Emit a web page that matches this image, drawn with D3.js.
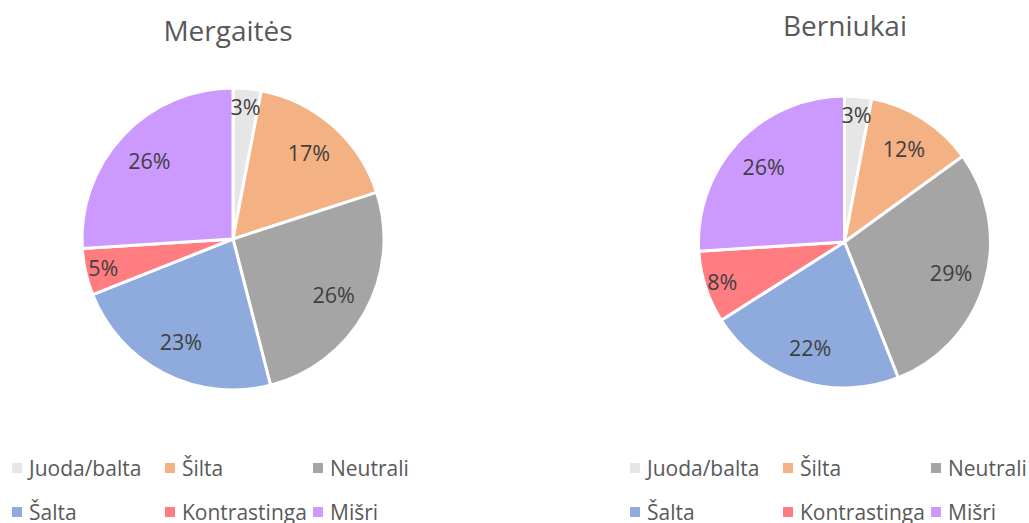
<!DOCTYPE html>
<html>
<head>
<meta charset="utf-8">
<script src="https://cdn.jsdelivr.net/npm/d3@7/dist/d3.min.js"></script>
<style>
  html, body { margin: 0; padding: 0; background: #ffffff; }
  svg { display: block; }
  text { font-family: "Open Sans", "Noto Sans", sans-serif; }
</style>
</head>
<body>
<svg id="chart" width="1029" height="523"></svg>
<script>
// Colour-preference categories (shared by both pies)
const categories = ["Juoda/balta", "Šilta", "Neutrali", "Šalta", "Kontrastinga", "Mišri"];
const colors = ["#E7E6E6", "#F4B183", "#A5A5A5", "#8FAADC", "#FF7C80", "#CC99FF"];

// Share of answers, percent
const girlsValues = [3, 17, 26, 23, 5, 26];
const boysValues = [3, 12, 29, 22, 8, 26];

const chartTitles = ["Mergaitės", "Berniukai"];

const svg = d3.select("#chart");

const color = d3.scaleOrdinal().domain(categories).range(colors);

const panels = [
  { title: chartTitles[0], values: girlsValues, cx: 233, cy: 239, r: 151, titleX: 228, titleY: 41, legendX: 12 },
  { title: chartTitles[1], values: boysValues, cx: 844.5, cy: 242, r: 146, titleX: 845, titleY: 36, legendX: 630 }
];

const pie = d3.pie().sort(null).value(d => d.value);

panels.forEach(p => {
  const data = categories.map((c, i) => ({ category: c, value: p.values[i] }));
  const arcs = pie(data);

  const g = svg.append("g").attr("transform", `translate(${p.cx},${p.cy})`);
  const arc = d3.arc().innerRadius(0).outerRadius(p.r);

  g.selectAll("path.slice")
    .data(arcs)
    .join("path")
    .attr("class", "slice")
    .attr("d", arc)
    .attr("fill", d => color(d.data.category))
    .attr("stroke", "#ffffff")
    .attr("stroke-width", 3)
    .attr("stroke-linejoin", "round");

  // Value labels inside the slices; thin slices get their label nearer the rim
  g.selectAll("text.value")
    .data(arcs)
    .join("text")
    .attr("class", "value")
    .attr("transform", d => {
      const f = d.data.value < 10 ? 0.88 : 0.76;
      const a = (d.startAngle + d.endAngle) / 2;
      return `translate(${Math.sin(a) * p.r * f},${-Math.cos(a) * p.r * f})`;
    })
    .attr("text-anchor", "middle")
    .attr("dominant-baseline", "central")
    .attr("font-size", 21.5)
    .attr("fill", "#404040")
    .text(d => d.data.value + "%");

  svg.append("text")
    .attr("x", p.titleX)
    .attr("y", p.titleY)
    .attr("text-anchor", "middle")
    .attr("font-size", 28)
    .attr("fill", "#595959")
    .text(p.title);

  // Legend: three columns, two rows
  const colX = [0, 153, 301];
  const rowY = [468, 512];
  const lg = svg.append("g").attr("transform", `translate(${p.legendX},0)`);
  const items = lg.selectAll("g.item")
    .data(categories)
    .join("g")
    .attr("class", "item")
    .attr("transform", (d, i) => `translate(${colX[i % 3]},${rowY[Math.floor(i / 3)]})`);
  items.append("rect")
    .attr("x", 0).attr("y", -5)
    .attr("width", 10).attr("height", 10)
    .attr("fill", d => color(d));
  items.append("text")
    .attr("x", 17)
    .attr("y", 0)
    .attr("dominant-baseline", "central")
    .attr("font-size", 21)
    .attr("fill", "#595959")
    .text(d => d);
});
</script>
</body>
</html>
